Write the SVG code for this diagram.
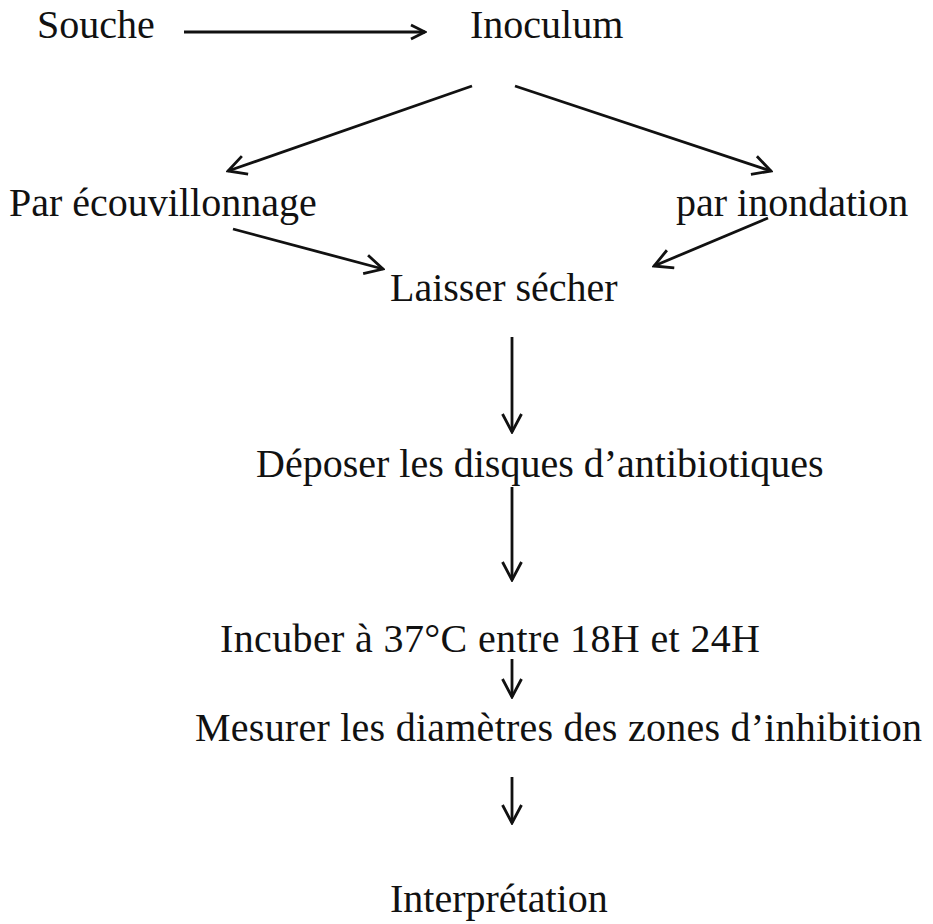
<svg xmlns="http://www.w3.org/2000/svg" width="933" height="924" viewBox="0 0 933 924">
<style>
text{font-family:"Liberation Serif","Times New Roman",serif;font-size:40px;fill:#111}
.c line{stroke:#111;stroke-width:2.8;fill:none}
.hd{fill:none;stroke:#111;stroke-width:2.8}
</style>
<defs>
<marker id="ah" markerUnits="userSpaceOnUse" viewBox="0 0 22 22" refX="20" refY="11" markerWidth="22" markerHeight="22" orient="auto">
<path class="hd" d="M2,1.5 L20,11 L2,20.5"/>
</marker>
<marker id="ahs" markerUnits="userSpaceOnUse" viewBox="0 0 18 18" refX="16" refY="9" markerWidth="18" markerHeight="18" orient="auto">
<path class="hd" d="M2,2 L16,9 L2,16"/>
</marker>
</defs>
<rect width="933" height="924" fill="#fff"/>
<g id="n-souche"><text x="37" y="38">Souche</text></g>
<g id="n-inoculum"><text x="470" y="38">Inoculum</text></g>
<g id="n-ecouv"><text x="9" y="216">Par écouvillonnage</text></g>
<g id="n-inond"><text x="676" y="216">par inondation</text></g>
<g id="n-secher"><text x="390" y="301">Laisser sécher</text></g>
<g id="n-disques"><text x="256" y="477">Déposer les disques d’antibiotiques</text></g>
<g id="n-incuber"><text x="220" y="652" textLength="540">Incuber à 37°C entre 18H et 24H</text></g>
<g id="n-mesurer"><text x="195" y="741" textLength="727">Mesurer les diamètres des zones d’inhibition</text></g>
<g id="n-interp"><text x="390" y="912">Interprétation</text></g>
<g id="connectors" class="c">
<line x1="184" y1="32" x2="425" y2="32" marker-end="url(#ahs)"/>
<line x1="472" y1="86" x2="228" y2="171" marker-end="url(#ah)"/>
<line x1="515" y1="86" x2="771" y2="171" marker-end="url(#ah)"/>
<line x1="233" y1="229" x2="383" y2="269" marker-end="url(#ah)"/>
<line x1="768" y1="218" x2="654" y2="266" marker-end="url(#ah)"/>
<line x1="512" y1="337" x2="512" y2="432" marker-end="url(#ah)"/>
<line x1="512" y1="487" x2="512" y2="580" marker-end="url(#ah)"/>
<line x1="512" y1="659" x2="512" y2="697" marker-end="url(#ah)"/>
<line x1="512" y1="777" x2="512" y2="823" marker-end="url(#ah)"/>
</g>
</svg>
